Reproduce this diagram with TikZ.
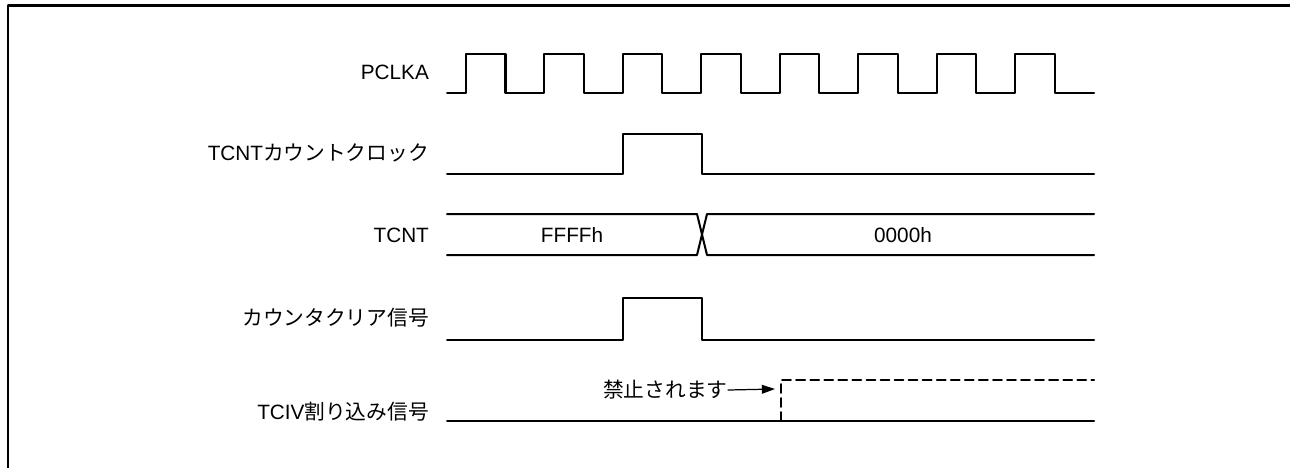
\documentclass[tikz,border=0pt]{standalone}
\usepackage{fontspec}
\setmainfont{Liberation Sans}
\newfontfamily\jpfont{Noto Sans CJK JP}
\usetikzlibrary{arrows.meta}

\begin{document}
\begin{tikzpicture}[x=0.02cm,y=-0.02cm,line cap=round,line join=round,>={Triangle[length=7.5pt,width=5pt]},every node/.style={inner sep=1pt,font=\fontsize{11.8}{14}\selectfont}]
  \def\xs{447}
  \def\xe{1094}
  \def\p{78.45}
  \def\lx{431}
  \useasboundingbox (0,0) rectangle (1290,468);
  \draw[line width=1.7pt,line cap=butt] (8,468) -- (8,5) -- (1290,5);
  % signal names
  \node[anchor=east] (pclka) at (\lx,72) {PCLKA};
  \node[anchor=east] (cntclk) at (\lx,153) {TCNT{\jpfont カウントクロック}};
  \node[anchor=east] (tcnt) at (\lx,235) {TCNT};
  \node[anchor=east] (clr) at (\lx,318) {\jpfont カウンタクリア信号};
  \node[anchor=east] (tciv) at (\lx,412) {TCIV{\jpfont 割り込み信号}};
  % PCLKA
  \draw[line width=1.15pt] (\xs,93) \foreach \k in {0,...,7} {
    -- ({466+\k*\p},93) -- ({466+\k*\p},54) -- ({505.5+\k*\p},54) -- ({505.5+\k*\p},93)} -- (\xe,93);
  % TCNT count clock
  \draw[line width=1.15pt] (\xs,174) -- (623,174) -- (623,134) -- (702,134) -- (702,174) -- (\xe,174);
  % TCNT
  \draw[line width=1.15pt] (\xs,214) -- (697,214) -- (707,255) -- (\xe,255);
  \draw[line width=1.15pt] (\xs,255) -- (697,255) -- (707,214) -- (\xe,214);
  \node (ffff) at (572,235) {FFFFh};
  \node (zero) at (903,235) {0000h};
  % counter clear
  \draw[line width=1.15pt] (\xs,340) -- (623,340) -- (623,298) -- (702,298) -- (702,340) -- (\xe,340);
  % TCIV
  \draw[line width=1.15pt] (\xs,421) -- (\xe,421);
  \draw[line width=1.15pt,dash pattern=on 5pt off 3pt] (781,421) -- (781,380) -- (\xe,380);
  \node[anchor=east,inner sep=0pt] (inh) at (728,390) {\jpfont 禁止されます};
  \coordinate (inhtip) at (775,389);
  \draw[->,line width=0.7pt] (inh.east) -- (inhtip);
\end{tikzpicture}
\end{document}
